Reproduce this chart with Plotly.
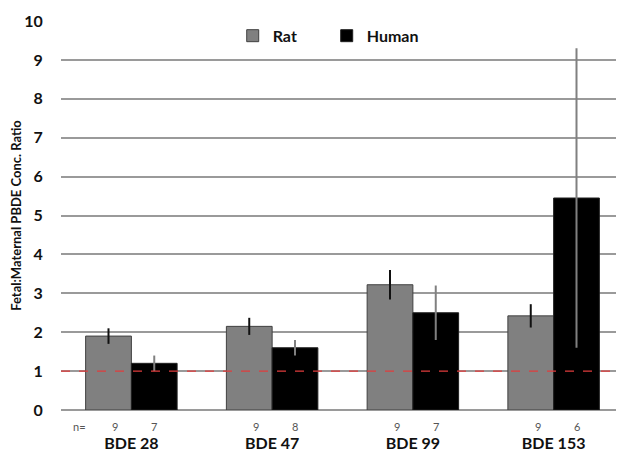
import plotly.graph_objects as go

categories = ["BDE 28", "BDE 47", "BDE 99", "BDE 153"]
rat_values = [1.9, 2.15, 3.22, 2.42]
rat_err = [0.2, 0.22, 0.38, 0.3]
human_values = [1.2, 1.6, 2.5, 5.45]
human_err = [0.2, 0.2, 0.7, 3.85]
rat_n = [9, 9, 9, 9]
human_n = [7, 8, 7, 6]
y_ticks = list(range(0, 11))
ref_line = 1

FONT = "Lato, Open Sans, Arial"

fig = go.Figure()
fig.add_trace(go.Bar(
    name="Rat", x=categories, y=rat_values,
    marker=dict(color="#808080", line=dict(color="#404040", width=1)),
    error_y=dict(type="data", array=rat_err, visible=True, color="#111111", thickness=2, width=0),
))
fig.add_trace(go.Bar(
    name="Human", x=categories, y=human_values,
    marker=dict(color="#000000", line=dict(color="#202020", width=1)),
    error_y=dict(type="data", array=human_err, visible=True, color="#808080", thickness=2, width=0),
))

fig.add_shape(type="line", xref="paper", x0=0, x1=1, yref="y", y0=ref_line, y1=ref_line,
              line=dict(color="#e03c3c", width=1.3, dash="dash"))

annotations = []
annotations.append(dict(x=0.018, y=0, xref="paper", yref="y", text="n=", showarrow=False,
                        yshift=-16, font=dict(size=11, family=FONT, color="#555555")))
for i, c in enumerate(categories):
    annotations.append(dict(x=i, y=0, xref="x", yref="y", text=str(rat_n[i]), showarrow=False,
                            xshift=-16, yshift=-16, font=dict(size=11, family=FONT, color="#555555")))
    annotations.append(dict(x=i, y=0, xref="x", yref="y", text=str(human_n[i]), showarrow=False,
                            xshift=23, yshift=-16, font=dict(size=11, family=FONT, color="#555555")))

fig.update_layout(
    width=616, height=445,
    margin=dict(l=53, r=0, t=13, b=43, autoexpand=False),
    paper_bgcolor="white", plot_bgcolor="white",
    barmode="group", bargap=0.35, bargroupgap=0,
    font=dict(family=FONT, color="#111111"),
    showlegend=True,
    legend=dict(orientation="h", x=0.305, y=0.962, xanchor="left", yanchor="middle",
                font=dict(size=16, family=FONT, weight="bold"),
                itemwidth=30, entrywidth=49, entrywidthmode="pixels",
                traceorder="normal", bgcolor="rgba(0,0,0,0)"),
    annotations=annotations,
    xaxis=dict(showgrid=False, showline=False, zeroline=False, automargin=False,
               ticks="outside", ticklen=19, tickcolor="rgba(0,0,0,0)",
               tickfont=dict(size=16, family=FONT, weight="bold", color="#111111")),
    yaxis=dict(range=[0, 10], tickvals=y_ticks, showgrid=True, gridcolor="#9a9a9a", gridwidth=1.5,
               zeroline=True, zerolinecolor="#9a9a9a", zerolinewidth=1.5, showline=False,
               automargin=False, ticks="outside", ticklen=14, tickcolor="rgba(0,0,0,0)",
               tickfont=dict(size=16, family=FONT, weight="bold", color="#111111"),
               title=dict(text="Fetal:Maternal PBDE Conc. Ratio", standoff=4,
                          font=dict(size=13, family=FONT, weight="bold", color="#111111"))),
)

fig.write_html("out.html")
